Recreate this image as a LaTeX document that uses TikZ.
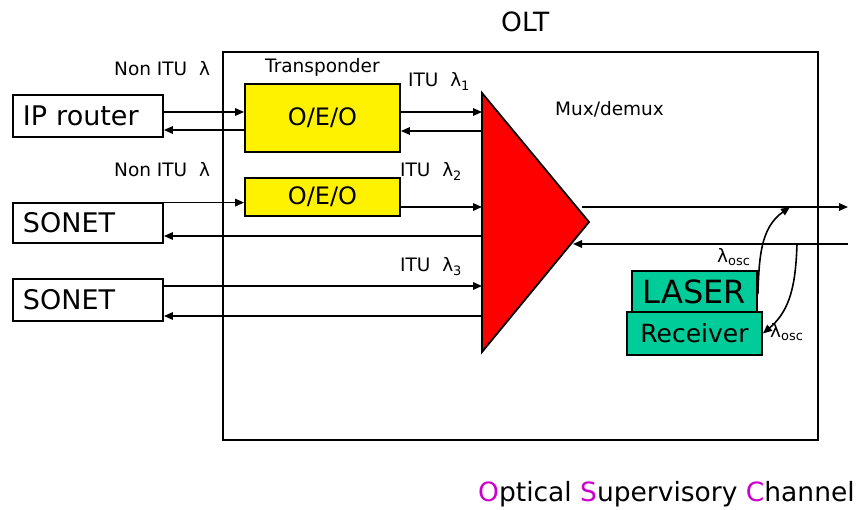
\documentclass[tikz,border=0pt]{standalone}
\usepackage{fontspec}
\setmainfont{DejaVu Sans}
\usetikzlibrary{arrows.meta,positioning}
\definecolor{oscgreen}{RGB}{0,204,153}
\definecolor{oscpink}{RGB}{204,0,204}

\begin{document}
\begin{tikzpicture}[x=1pt,y=-1pt,
  box/.style={draw,line width=1.8pt,fill=white,text width=130pt,inner xsep=10pt,inner ysep=0pt,minimum height=42pt,align=left,font=\fontsize{27}{30}\selectfont},
  oeo/.style={draw,line width=1.8pt,fill=yellow,minimum width=155pt,inner sep=0pt,font=\fontsize{24}{28}\selectfont},
  osc/.style={draw,line width=1.8pt,fill=oscgreen,inner sep=0pt},
  lbl/.style={inner sep=0pt,anchor=base west,font=\fontsize{18.5}{20}\selectfont},
  big/.style={inner sep=0pt,anchor=base west,font=\fontsize{26.5}{30}\selectfont},
  arr/.style={-{Triangle[length=9pt,width=7.5pt]},line width=1.6pt}
]
\useasboundingbox (0,0) rectangle (860,510);

% OLT frame
\node[draw,line width=1.8pt,minimum width=595pt,minimum height=388pt,inner sep=0pt] (olt) at (520.5,246) {};
\node[big] (oltlbl) at (501,32) {OLT};

% clients
\node[box] (ipr) at (88,116) {IP router};
\node[box,minimum height=40pt] (son1) at (88,223) {SONET};
\node[box] (son2) at (88,300) {SONET};

% transponders
\node[oeo,minimum height=68pt] (oeo1) at (322.5,118) {O/E/O};
\node[oeo,minimum height=38pt] (oeo2) at (322.5,197) {O/E/O};
\node[lbl] (trlbl) at (265,73) {Transponder};

% mux/demux
\filldraw[fill=red,line width=1.8pt] (482,93) coordinate (muxT) -- (589,222) coordinate (muxA) -- (482,352) coordinate (muxB) -- cycle;
\node[lbl] (muxlbl) at (555,116) {Mux/demux};

% client side
\draw[arr] ([yshift=4pt]ipr.east) -- ([yshift=4pt]ipr.east -| oeo1.west);
\draw[arr] ([yshift=-12pt]oeo1.west) -- ([yshift=-12pt]oeo1.west -| ipr.east);
\draw[arr] ([yshift=-0.5pt]son1.north east) -- ([yshift=-0.5pt]son1.north east -| oeo2.west);
\draw[arr] ([yshift=-13pt]son1.east -| muxT) -- ([yshift=-13pt]son1.east);
\draw[arr] ([yshift=14pt]son2.east) -- ([yshift=14pt]son2.east -| muxT);
\draw[arr] ([yshift=-16pt]son2.east -| muxT) -- ([yshift=-16pt]son2.east);

% line side of transponders
\draw[arr] ([yshift=6pt]oeo1.east) -- ([yshift=6pt]oeo1.east -| muxT);
\draw[arr] ([yshift=-13pt]oeo1.east -| muxT) -- ([yshift=-13pt]oeo1.east);
\draw[arr] ([yshift=-10pt]oeo2.east) -- ([yshift=-10pt]oeo2.east -| muxT);

\node[lbl] (non1) at (114,76) {Non ITU\ \ λ};
\node[lbl] (non2) at (114,177) {Non ITU\ \ λ};
\node[lbl] (itu1) at (408,87) {ITU\ \ λ\textsubscript{1}};
\node[lbl] (itu2) at (400,177) {ITU\ \ λ\textsubscript{2}};
\node[lbl] (itu3) at (400,272) {ITU\ \ λ\textsubscript{3}};

% fibre in/out
\coordinate (outS) at (582,207);
\coordinate (outE) at (848,207);
\coordinate (inS) at (848,244);
\coordinate (inE) at (573,244);
\coordinate (oscT) at (790,207);
\coordinate (oscR) at (797,244);
\draw[arr] (outS) -- (outE);
\draw[arr] (inS) -- (inE);

% supervisory channel
\node[osc,minimum width=125pt,minimum height=41pt,font=\fontsize{32}{34}\selectfont] (laser) at (694.5,291.5) {LASER};
\node[osc,minimum width=135pt,minimum height=43pt,font=\fontsize{25}{28}\selectfont] (rcv) at (694.5,333.5) {Receiver};
\draw[arr] ([yshift=-2.5pt]laser.east) to[out=88,in=215] (oscT);
\draw[arr] (oscR) to[out=-92,in=40] (rcv.east);
\node[lbl] (osc1) at (717,263) {λ\textsubscript{osc}};
\node[lbl] (osc2) at (770,338) {λ\textsubscript{osc}};

\node[big] (oscname) at (478,502) {\textcolor{oscpink}{O}ptical \textcolor{oscpink}{S}upervisory \textcolor{oscpink}{C}hannel};
\end{tikzpicture}
\end{document}
